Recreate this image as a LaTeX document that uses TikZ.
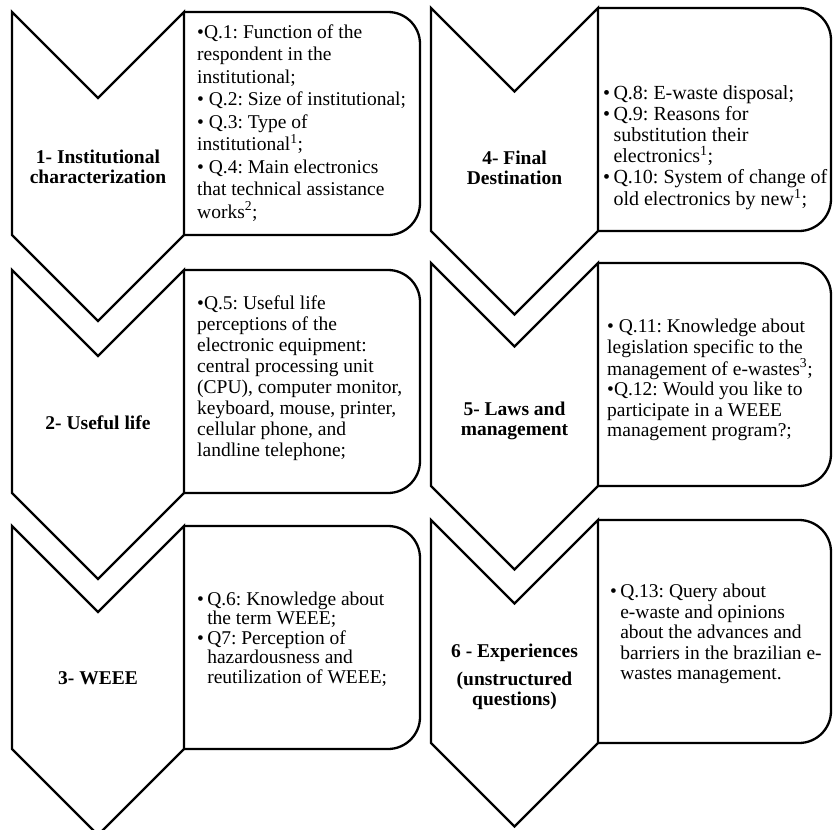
\documentclass[tikz,border=0pt]{standalone}
\usepackage{fontspec}
\setmainfont{Liberation Serif}
\frenchspacing
\tikzset{
    chevron/.style = {draw=black, fill=white, line width=2.3pt, line join=miter},
    qbox/.style = {draw=black, line width=2.3pt, rounded corners=32pt},
    stage-label/.style = {font=\fontsize{19.5}{20}\selectfont\bfseries, align=center, inner sep=0pt},
    q-text/.style = {font=\fontsize{19.5}{21}\selectfont, align=left, anchor=west, inner sep=0pt},
}
\newcommand{\hangsp}{\phantom{•\,}}

\begin{document}
\begin{tikzpicture}[x=1pt, y=-1pt]
\useasboundingbox (0,0) rectangle (833,830);
% chevrons and boxes: left x / right x / top y / box right x
\foreach \xl/\xr/\yt/\xb in {12/184/12/420, 12/184/270/420, 12/184/526/420,
                             431/598/8/831, 431/598/263/831, 431/598/520/831}{
    \pgfmathsetmacro{\xm}{(\xl+\xr)/2}
    \pgfmathsetmacro{\dv}{(\xr-\xl)/2}
    \draw[qbox] (\xr,\yt) -- (\xb,\yt) -- (\xb,\yt+223) -- (\xr,\yt+223);
    \draw[chevron] (\xl,\yt) -- (\xm,\yt+\dv) -- (\xr,\yt) -- (\xr,\yt+223)
        -- (\xm,\yt+223+\dv) -- (\xl,\yt+223) -- cycle;
}

% stage labels
\node[stage-label] (inst) at (98,167) {1- Institutional\\characterization};
\node[stage-label] (life) at (98,423) {2- Useful life};
\node[stage-label] (weee) at (98,678) {3- WEEE};
\node[stage-label] (dest) at (514.5,168) {4- Final\\Destination};
\node[stage-label] (laws) at (514.5,421) {5- Laws and\\management};
\node[stage-label] (expe) at (514.5,677) {6 - Experiences\\[8pt](unstructured\\questions)};

% questions
\node[q-text, font=\fontsize{19.5}{22.5}\selectfont] (q-inst) at (197,123) {•Q.1: Function of the\\
    respondent in the\\ institutional;\\ • Q.2: Size of institutional;\\
    • Q.3: Type of\\ institutional\textsuperscript{1};\\ • Q.4: Main electronics\\
    that technical assistance\\ works\textsuperscript{2};};
\node[q-text] (q-life) at (197,378) {•Q.5: Useful life\\ perceptions of the\\
    electronic equipment:\\ central processing unit\\ (CPU), computer monitor,\\
    keyboard, mouse, printer,\\ cellular phone, and\\ landline telephone;};
\node[q-text, font=\fontsize{19.5}{19.5}\selectfont] (q-weee) at (197,639) {•\,Q.6: Knowledge about\\
    \hangsp the term WEEE;\\ •\,Q7: Perception of\\ \hangsp hazardousness and\\
    \hangsp reutilization of WEEE;};
\node[q-text, font=\fontsize{20}{21}\selectfont] (q-dest) at (603,148) {•\,Q.8: E-waste disposal;\\
    •\,Q.9: Reasons for\\ \hangsp substitution their\\ \hangsp electronics\textsuperscript{1};\\
    •\,Q.10: System of change of\\ \hangsp old electronics by new\textsuperscript{1};};
\node[q-text, font=\fontsize{19.5}{20.5}\selectfont] (q-laws) at (607,380) {• Q.11: Knowledge about\\
    legislation specific to the\\ management of e-wastes\textsuperscript{3};\\
    •Q.12: Would you like to\\ participate in a WEEE\\ management program?;};
\node[q-text, font=\fontsize{19.5}{20.5}\selectfont] (q-expe) at (610,634) {•\,Q.13: Query about\\
    \hangsp e-waste and opinions\\ \hangsp about the advances and\\
    \hangsp barriers in the brazilian e-\\ \hangsp wastes management.};
\end{tikzpicture}
\end{document}
